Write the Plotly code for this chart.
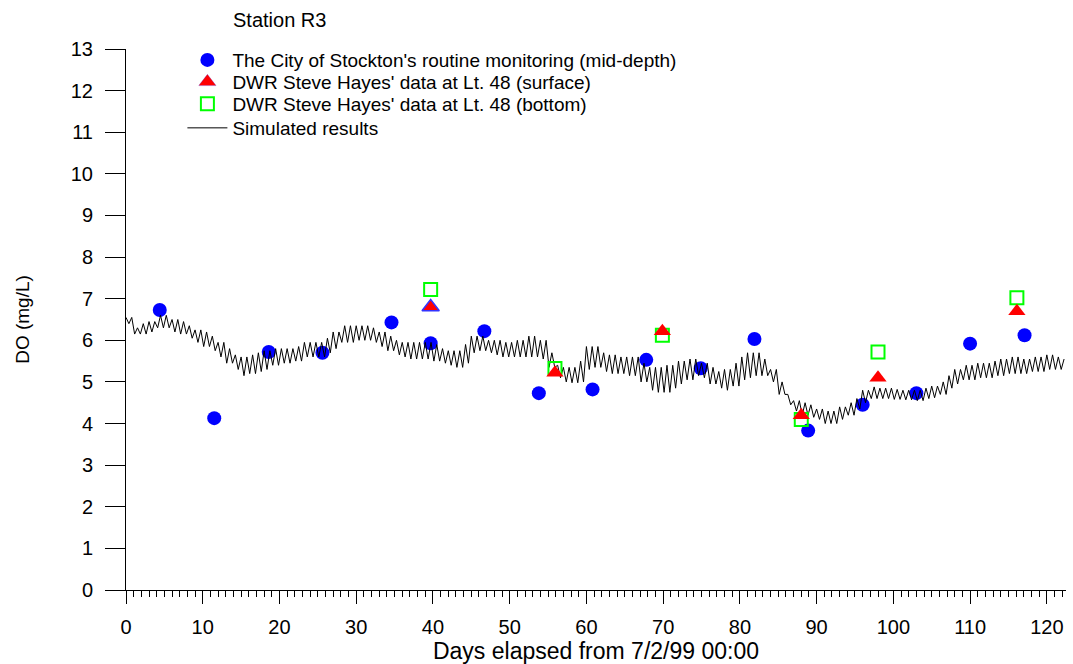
import plotly.graph_objects as go

# City of Stockton routine monitoring (mid-depth)
city_days = [4.4, 11.5, 18.6, 25.6, 34.6, 39.7, 46.7, 53.8, 60.8, 67.8, 74.9, 81.9, 88.9, 96.0, 103.0, 110.0, 117.1]
city_do = [6.73, 4.13, 5.72, 5.70, 6.43, 5.93, 6.22, 4.73, 4.82, 5.53, 5.33, 6.03, 3.83, 4.45, 4.73, 5.92, 6.12]

# DWR Steve Hayes' data at Lt. 48
dwr_days = [39.7, 55.9, 69.9, 88.0, 98.0, 116.1]
dwr_surface = [6.80, 5.22, 6.22, 4.20, 5.10, 6.70]
dwr_bottom = [7.22, 5.32, 6.12, 4.10, 5.72, 7.02]

# Simulated results: daily upper / lower envelope of the tidal wiggle, days 0..122
sim_high = [6.55, 6.30, 6.40, 6.45, 6.60, 6.60, 6.50, 6.45, 6.35, 6.25,
            6.20, 6.10, 5.95, 5.80, 5.65, 5.60, 5.65, 5.70, 5.75, 5.80,
            5.80, 5.80, 5.85, 5.95, 5.95, 5.95, 6.05, 6.20, 6.35, 6.35,
            6.35, 6.35, 6.30, 6.20, 6.10, 6.00, 5.95, 5.95, 5.95, 5.95,
            5.90, 5.80, 5.75, 5.75, 5.90, 6.10, 6.10, 6.00, 6.00, 5.95,
            5.95, 6.00, 6.10, 6.10, 6.00, 5.70, 5.40, 5.35, 5.35, 5.50,
            5.85, 5.85, 5.70, 5.65, 5.60, 5.60, 5.60, 5.45, 5.35, 5.35,
            5.40, 5.40, 5.50, 5.55, 5.55, 5.45, 5.35, 5.25, 5.30, 5.45,
            5.60, 5.70, 5.70, 5.55, 5.30, 5.00, 4.70, 4.55, 4.50, 4.45,
            4.35, 4.30, 4.30, 4.40, 4.50, 4.60, 4.80, 4.88, 4.85, 4.85,
            4.82, 4.80, 4.80, 4.80, 4.85, 4.90, 5.00, 5.15, 5.30, 5.40,
            5.40, 5.45, 5.45, 5.50, 5.55, 5.60, 5.60, 5.55, 5.60, 5.60,
            5.65, 5.60, 5.55]
sim_low = [6.40, 6.15, 6.15, 6.20, 6.30, 6.30, 6.20, 6.15, 6.05, 5.95,
           5.85, 5.75, 5.60, 5.45, 5.30, 5.15, 5.20, 5.25, 5.30, 5.40,
           5.45, 5.45, 5.50, 5.60, 5.60, 5.60, 5.70, 5.80, 5.95, 5.95,
           6.00, 6.00, 5.95, 5.85, 5.75, 5.65, 5.60, 5.55, 5.55, 5.55,
           5.50, 5.45, 5.40, 5.35, 5.45, 5.70, 5.75, 5.70, 5.65, 5.60,
           5.60, 5.60, 5.60, 5.60, 5.55, 5.35, 5.10, 5.00, 4.98, 5.00,
           5.30, 5.35, 5.25, 5.20, 5.20, 5.15, 5.15, 5.00, 4.80, 4.75,
           4.75, 4.85, 4.95, 5.05, 5.15, 5.10, 4.95, 4.85, 4.80, 4.90,
           5.05, 5.10, 5.15, 5.15, 5.00, 4.70, 4.45, 4.30, 4.20, 4.15,
           4.10, 4.00, 4.00, 4.10, 4.20, 4.35, 4.50, 4.60, 4.60, 4.60,
           4.58, 4.57, 4.57, 4.55, 4.60, 4.62, 4.70, 4.85, 4.95, 5.05,
           5.05, 5.10, 5.10, 5.15, 5.15, 5.20, 5.20, 5.20, 5.25, 5.25,
           5.30, 5.30, 5.30]
sim_end_day = 122.5
sim_half_period = 0.375  # days between a wiggle peak and the next trough

# Zig-zag trace: alternate peak / trough, each taken from that day's envelope
sim_x, sim_y = [0.0], [sim_high[0]]
j = 1
while j * sim_half_period <= sim_end_day:
    t = j * sim_half_period
    d = min(int(t), len(sim_high) - 1)
    sim_x.append(t)
    sim_y.append(sim_low[d] if j % 2 else sim_high[d])
    j += 1

FONT = "Arial, Liberation Sans, sans-serif"
LEG_FONT = dict(size=19, family=FONT, color="black")


def leg(ypos):
    return dict(x=0.06, y=ypos, xanchor="left", yanchor="top",
                bgcolor="rgba(0,0,0,0)", font=LEG_FONT, itemwidth=40)


fig = go.Figure()
fig.add_trace(go.Scatter(
    x=city_days, y=city_do, mode="markers",
    name="The City of Stockton's routine monitoring (mid-depth)",
    marker=dict(symbol="circle", size=14, color="#0000ff", line=dict(width=0)),
    legend="legend"))
fig.add_trace(go.Scatter(
    x=sim_x, y=sim_y, mode="lines", name="Simulated results",
    line=dict(color="black", width=1), legend="legend4"))
fig.add_trace(go.Scatter(
    x=dwr_days, y=dwr_bottom, mode="markers",
    name="DWR Steve Hayes' data at Lt. 48 (bottom)",
    marker=dict(symbol="square-open", size=13, color="#00ff00", line=dict(width=2)),
    legend="legend3"))
fig.add_trace(go.Scatter(
    x=dwr_days, y=dwr_surface, mode="markers",
    name="DWR Steve Hayes' data at Lt. 48 (surface)",
    marker=dict(symbol="triangle-up", size=15, color="#ff0000",
                line=dict(width=[1.5, 0, 0, 0, 0, 0], color="#3333ff")),
    legend="legend2"))

fig.update_layout(
    width=1073, height=664,
    margin=dict(l=126, r=7, t=49, b=74),
    paper_bgcolor="white", plot_bgcolor="white",
    font=dict(family=FONT, size=20, color="black"),
    title=dict(text="Station R3", x=233 / 1073, xanchor="left", xref="container",
               y=1 - 20 / 664, yanchor="middle", yref="container",
               font=dict(size=20, family=FONT, color="black")),
    showlegend=True,
    legend=leg(1.0147),
    legend2=leg(0.9741),
    legend3=leg(0.9335),
    legend4=leg(0.8891),
    xaxis=dict(range=[0, 122.5], tick0=0, dtick=10, showgrid=False, zeroline=False,
               showline=True, linecolor="black", linewidth=1, automargin=False,
               ticks="outside", ticklen=13, tickcolor="black", tickwidth=1,
               tickfont=dict(size=20, family=FONT), ticklabelstandoff=6,
               minor=dict(dtick=1, ticks="outside", ticklen=6, tickcolor="black", showgrid=False),
               title=dict(text="Days elapsed from 7/2/99 00:00", font=dict(size=23, family=FONT), standoff=8)),
    yaxis=dict(range=[0, 13], tick0=0, dtick=1, showgrid=False, zeroline=False,
               showline=True, linecolor="black", linewidth=1, automargin=False,
               ticks="outside", ticklen=20, tickcolor="black", tickwidth=1,
               tickfont=dict(size=20, family=FONT), ticklabelstandoff=8,
               title=dict(text="DO (mg/L)", font=dict(size=19, family=FONT), standoff=36)),
)

fig.write_html("out.html", config={"displayModeBar": False},
               post_script="document.body.style.margin='0';document.body.style.overflow='hidden';")
